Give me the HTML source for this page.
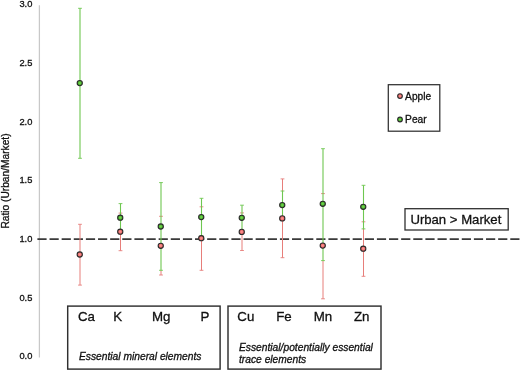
<!DOCTYPE html>
<html lang="en"><head><meta charset="utf-8"><title>Ratio (Urban/Market)</title>
<style>html,body{margin:0;padding:0;background:#fff;}body{width:520px;height:370px;overflow:hidden;}svg{display:block;}text{font-family:"Liberation Sans",Arial,Helvetica,sans-serif;fill:#111;stroke:#111;stroke-width:0.3px;}</style></head><body>
<svg xmlns="http://www.w3.org/2000/svg" width="520" height="370" viewBox="0 0 520 370">
<defs>
<radialGradient id="gg" cx="50%" cy="50%" r="50%"><stop offset="0" stop-color="#7ad65a"/><stop offset="0.55" stop-color="#55c233"/><stop offset="1" stop-color="#3fa822"/></radialGradient>
<radialGradient id="rg" cx="50%" cy="50%" r="50%"><stop offset="0" stop-color="#ff9a96"/><stop offset="0.55" stop-color="#f27474"/><stop offset="1" stop-color="#e25c5c"/></radialGradient>
</defs>
<rect x="0" y="0" width="520" height="370" fill="#ffffff"/>
<line x1="39.4" y1="5.2" x2="39.4" y2="357.5" stroke="#c8c8c8" stroke-width="1.25"/>
<text x="32.4" y="7.2" font-size="9.3" text-anchor="end">3.0</text>
<text x="32.4" y="65.9" font-size="9.3" text-anchor="end">2.5</text>
<text x="32.4" y="124.5" font-size="9.3" text-anchor="end">2.0</text>
<text x="32.4" y="183.2" font-size="9.3" text-anchor="end">1.5</text>
<text x="32.4" y="241.9" font-size="9.3" text-anchor="end">1.0</text>
<text x="32.4" y="300.6" font-size="9.3" text-anchor="end">0.5</text>
<text x="32.4" y="359.2" font-size="9.3" text-anchor="end">0.0</text>
<text transform="translate(8.9,181) rotate(-90)" font-size="10.2" text-anchor="middle">Ratio (Urban/Market)</text>
<line x1="37.4" y1="239.1" x2="520" y2="239.1" stroke="#3a3a3a" stroke-width="1.7" stroke-dasharray="9.2 2.925"/>
<path d="M80.0 224.3V285.1" stroke="#e77e7a" stroke-width="1.0" fill="none"/>
<path d="M78.1 224.3H81.9M78.1 285.1H81.9" stroke="#e77e7a" stroke-width="0.9" fill="none"/>
<path d="M120.5 232.0V250.7" stroke="#e77e7a" stroke-width="1.0" fill="none"/>
<path d="M118.6 213.1H122.4M118.6 250.7H122.4" stroke="#e77e7a" stroke-width="0.9" fill="none"/>
<path d="M161.0 270.3V275.0" stroke="#e77e7a" stroke-width="1.0" fill="none"/>
<path d="M159.1 216.3H162.9M159.1 275.0H162.9" stroke="#e77e7a" stroke-width="0.9" fill="none"/>
<path d="M201.5 236.0V270.3" stroke="#e77e7a" stroke-width="1.0" fill="none"/>
<path d="M199.6 206.8H203.4M199.6 270.3H203.4" stroke="#e77e7a" stroke-width="0.9" fill="none"/>
<path d="M242.0 230.4V250.5" stroke="#e77e7a" stroke-width="1.0" fill="none"/>
<path d="M240.1 212.9H243.9M240.1 250.5H243.9" stroke="#e77e7a" stroke-width="0.9" fill="none"/>
<path d="M282.5 178.9V191.0" stroke="#e77e7a" stroke-width="1.0" fill="none"/>
<path d="M282.5 219.3V257.7" stroke="#e77e7a" stroke-width="1.0" fill="none"/>
<path d="M280.6 178.9H284.4M280.6 257.7H284.4" stroke="#e77e7a" stroke-width="0.9" fill="none"/>
<path d="M323.0 260.6V298.8" stroke="#e77e7a" stroke-width="1.0" fill="none"/>
<path d="M321.1 193.6H324.9M321.1 298.8H324.9" stroke="#e77e7a" stroke-width="0.9" fill="none"/>
<path d="M363.5 228.9V276.3" stroke="#e77e7a" stroke-width="1.0" fill="none"/>
<path d="M361.6 221.8H365.4M361.6 276.3H365.4" stroke="#e77e7a" stroke-width="0.9" fill="none"/>
<path d="M80.0 8.3V158.3" stroke="#6ec750" stroke-width="1.1" fill="none"/>
<path d="M78.1 8.3H81.9M78.1 158.3H81.9" stroke="#6ec750" stroke-width="0.9" fill="none"/>
<path d="M120.5 203.6V232.0" stroke="#6ec750" stroke-width="1.1" fill="none"/>
<path d="M118.6 203.6H122.4M118.6 232.0H122.4" stroke="#6ec750" stroke-width="0.9" fill="none"/>
<path d="M161.0 182.6V270.3" stroke="#6ec750" stroke-width="1.1" fill="none"/>
<path d="M159.1 182.6H162.9M159.1 270.3H162.9" stroke="#6ec750" stroke-width="0.9" fill="none"/>
<path d="M201.5 198.3V236.0" stroke="#6ec750" stroke-width="1.1" fill="none"/>
<path d="M199.6 198.3H203.4M199.6 236.0H203.4" stroke="#6ec750" stroke-width="0.9" fill="none"/>
<path d="M242.0 205.2V230.4" stroke="#6ec750" stroke-width="1.1" fill="none"/>
<path d="M240.1 205.2H243.9M240.1 230.4H243.9" stroke="#6ec750" stroke-width="0.9" fill="none"/>
<path d="M282.5 191.0V219.3" stroke="#6ec750" stroke-width="1.1" fill="none"/>
<path d="M280.6 191.0H284.4M280.6 219.3H284.4" stroke="#6ec750" stroke-width="0.9" fill="none"/>
<path d="M323.0 148.7V260.6" stroke="#6ec750" stroke-width="1.1" fill="none"/>
<path d="M321.1 148.7H324.9M321.1 260.6H324.9" stroke="#6ec750" stroke-width="0.9" fill="none"/>
<path d="M363.5 185.3V228.9" stroke="#6ec750" stroke-width="1.1" fill="none"/>
<path d="M361.6 185.3H365.4M361.6 228.9H365.4" stroke="#6ec750" stroke-width="0.9" fill="none"/>
<circle cx="79.75" cy="83.1" r="2.6" fill="url(#gg)" stroke="#2b2b2b" stroke-width="1.1"/>
<circle cx="120.25" cy="217.7" r="2.6" fill="url(#gg)" stroke="#2b2b2b" stroke-width="1.1"/>
<circle cx="160.75" cy="226.5" r="2.6" fill="url(#gg)" stroke="#2b2b2b" stroke-width="1.1"/>
<circle cx="201.25" cy="217.1" r="2.6" fill="url(#gg)" stroke="#2b2b2b" stroke-width="1.1"/>
<circle cx="241.75" cy="217.8" r="2.6" fill="url(#gg)" stroke="#2b2b2b" stroke-width="1.1"/>
<circle cx="282.25" cy="205.1" r="2.6" fill="url(#gg)" stroke="#2b2b2b" stroke-width="1.1"/>
<circle cx="322.75" cy="203.8" r="2.6" fill="url(#gg)" stroke="#2b2b2b" stroke-width="1.1"/>
<circle cx="363.25" cy="206.8" r="2.6" fill="url(#gg)" stroke="#2b2b2b" stroke-width="1.1"/>
<circle cx="79.75" cy="254.5" r="2.6" fill="url(#rg)" stroke="#2b2b2b" stroke-width="1.1"/>
<circle cx="120.25" cy="231.7" r="2.6" fill="url(#rg)" stroke="#2b2b2b" stroke-width="1.1"/>
<circle cx="160.75" cy="245.8" r="2.6" fill="url(#rg)" stroke="#2b2b2b" stroke-width="1.1"/>
<circle cx="201.25" cy="238.2" r="2.6" fill="url(#rg)" stroke="#2b2b2b" stroke-width="1.1"/>
<circle cx="241.75" cy="231.9" r="2.6" fill="url(#rg)" stroke="#2b2b2b" stroke-width="1.1"/>
<circle cx="282.25" cy="218.4" r="2.6" fill="url(#rg)" stroke="#2b2b2b" stroke-width="1.1"/>
<circle cx="322.75" cy="245.6" r="2.6" fill="url(#rg)" stroke="#2b2b2b" stroke-width="1.1"/>
<circle cx="363.25" cy="248.7" r="2.6" fill="url(#rg)" stroke="#2b2b2b" stroke-width="1.1"/>
<rect x="388.3" y="84.7" width="51.5" height="46.5" fill="#fff" stroke="#303030" stroke-width="1.25"/>
<circle cx="400" cy="96.1" r="2.35" fill="url(#rg)" stroke="#2b2b2b" stroke-width="1.1"/>
<circle cx="400" cy="119.5" r="2.35" fill="url(#gg)" stroke="#2b2b2b" stroke-width="1.1"/>
<text x="405.1" y="99.5" font-size="10.2">Apple</text>
<text x="405.1" y="122.6" font-size="10.2">Pear</text>
<rect x="405" y="208.7" width="103.2" height="21.3" fill="#fff" stroke="#303030" stroke-width="1.3"/>
<text x="410.4" y="223.8" font-size="13.15">Urban &gt; Market</text>
<rect x="67.7" y="306.1" width="152.4" height="63" fill="#fff" stroke="#303030" stroke-width="1.45"/>
<rect x="228.0" y="306.1" width="153.0" height="63" fill="#fff" stroke="#303030" stroke-width="1.45"/>
<text x="78" y="321.2" font-size="13.3">Ca</text>
<text x="113.3" y="321.2" font-size="13.3">K</text>
<text x="152" y="321.2" font-size="13.3">Mg</text>
<text x="200.5" y="321.2" font-size="13.3">P</text>
<text x="237.3" y="321.2" font-size="13.3">Cu</text>
<text x="276.2" y="321.2" font-size="13.3">Fe</text>
<text x="313.8" y="321.2" font-size="13.3">Mn</text>
<text x="354" y="321.2" font-size="13.3">Zn</text>
<text x="79" y="360.4" font-size="10.25" font-style="italic">Essential mineral elements</text>
<text x="239" y="351" font-size="10.25" font-style="italic">Essential/potentially essential</text>
<text x="239" y="363.3" font-size="10.25" font-style="italic">trace elements</text>
</svg></body></html>
